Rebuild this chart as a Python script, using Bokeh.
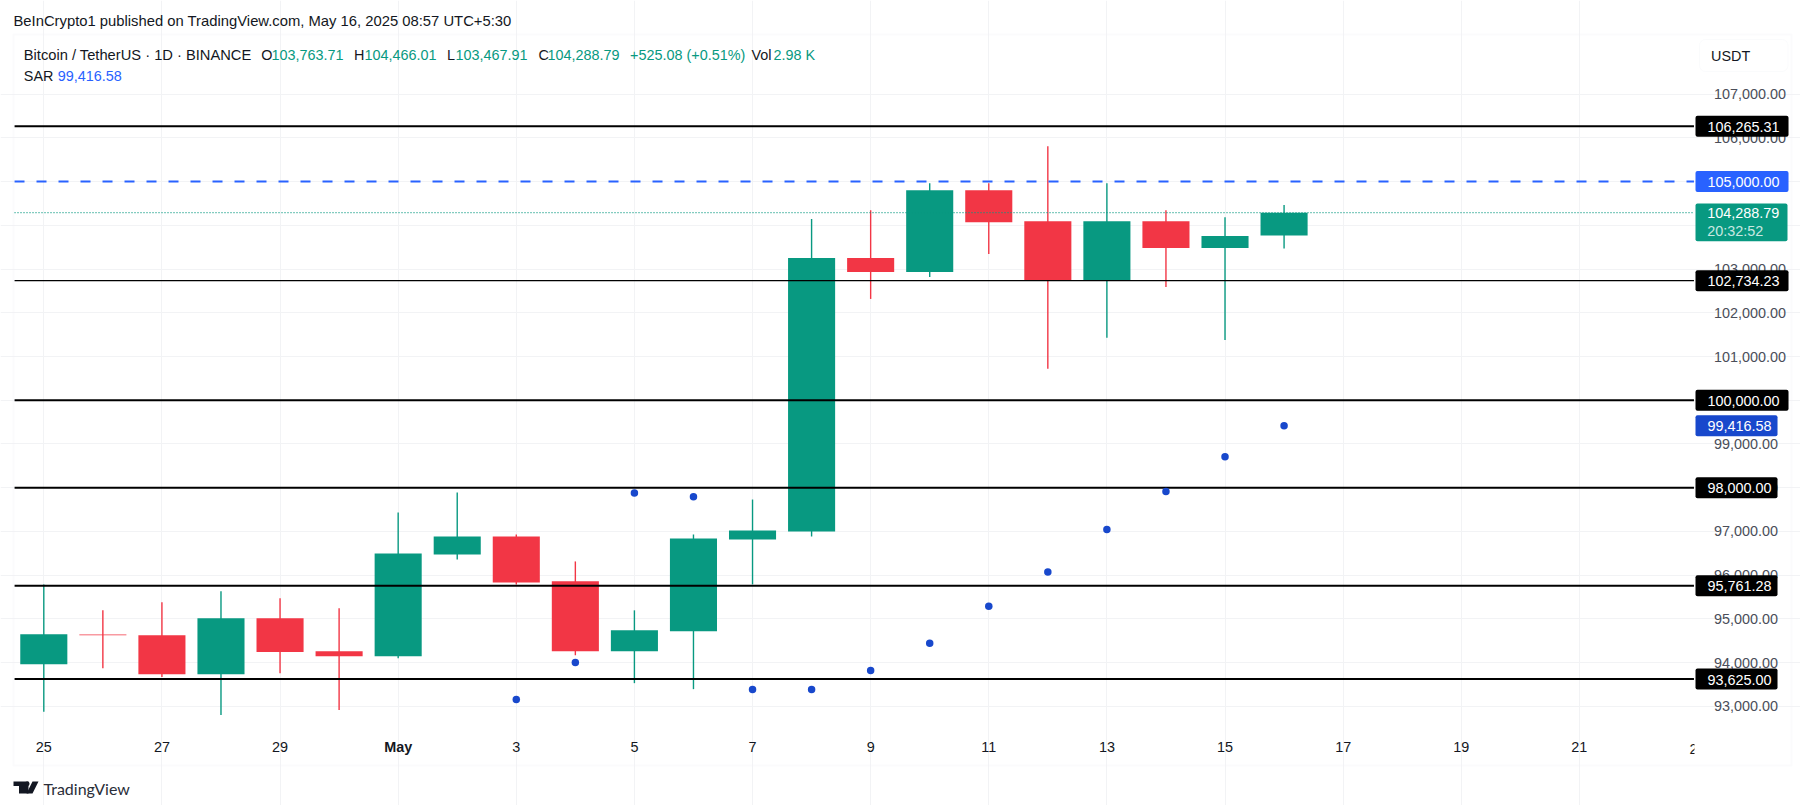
from bokeh.embed import file_html
from bokeh.resources import INLINE
from bokeh.plotting import figure
from bokeh.models import (Range1d, FixedTicker, NumeralTickFormatter, Label, BoxAnnotation,
                          PolyAnnotation)

# ---------- data ----------
day_ticks = [0, 2, 4, 6, 8, 10, 12, 14, 16, 18, 20, 22, 24, 26]
day_labels = ["25", "27", "29", "", "3", "5", "7", "9", "11", "13", "15", "17", "19", "21"]
opens = [93965, 94643, 94627, 93737, 95015, 94262, 94148, 96475, 96885, 95859, 94262, 94718, 96817, 97000,
         103251, 102931, 104802, 104095, 102749, 104095, 103479, 103763.71]
closes = [94650, 94625, 93737, 95015, 94246, 94148, 96498, 96885, 95836, 94262, 94741, 96840, 97022, 103251,
          102931, 104802, 104072, 102749, 104095, 103479, 103753, 104288.79]
highs = [95790, 95197, 95380, 95631, 95471, 95243, 97433, 97889, 96931, 96315, 95197, 96931, 97730, 104141,
         104346, 104962, 104962, 105806, 104962, 104346, 104186, 104466.01]
lows = [92877, 93874, 93675, 92802, 93760, 92916, 94100, 96361, 95790, 94170, 93532, 93395, 95790, 96885,
        102316, 102817, 103342, 100718, 101426, 102589, 101380, 103467.91]
sar_days = [8, 9, 10, 11, 12, 13, 14, 15, 16, 17, 18, 19, 20, 21]
sar_values = [93160, 94004, 97882, 97791, 93388, 93388, 93821, 94444, 95288, 96071, 97045, 97912, 98710, 99416.58]
price_ticks = [93000, 94000, 95000, 96000, 97000, 98000, 99000, 100000, 101000, 102000, 103000, 104000, 105000,
               106000, 107000]
level_values = [106265.31, 102734.23, 100000.00, 98000.00, 95761.28, 93625.00]
level_widths = [2, 1.2, 2, 2, 2, 2]
level_texts = ["106,265.31", "102,734.23", "100,000.00", "98,000.00", "95,761.28", "93,625.00"]
target_level = 105000.00
last_close = 104288.79
last_sar = 99416.58

GREEN, RED, BLUE, SARBLUE = "#089981", "#F23645", "#2962FF", "#1848CC"
GRID, FONT, INK = "#F2F3F5", "Liberation Sans", "#131722"
SIZE = "14.4px"
LEVEL = "overlay"

# pane limits in data units; the figure's scales span the whole canvas
PANE_LEFT, PANE_RIGHT = -0.496, 27.94
PANE_BOTTOM, PANE_TOP = 92450, 108362

p = figure(width=1800, height=805, output_backend="svg", toolbar_location=None,
           x_range=Range1d(-0.7332, 29.744), y_range=Range1d(90735, 109139),
           y_axis_location="right", min_border=0, background_fill_color="white",
           border_fill_color="white", outline_line_color=None)

p.xaxis.fixed_location = PANE_BOTTOM
p.yaxis.fixed_location = PANE_RIGHT
p.xaxis.ticker = FixedTicker(ticks=day_ticks)
p.xaxis.major_label_overrides = dict(zip(day_ticks, day_labels))
p.yaxis.ticker = FixedTicker(ticks=price_ticks)
p.yaxis.formatter = NumeralTickFormatter(format="0,0.00")
for ax in (p.xaxis[0], p.yaxis[0]):
    ax.axis_line_color = None
    ax.major_tick_line_color = None
    ax.minor_tick_line_color = None
    ax.major_label_text_font = FONT
    ax.major_label_text_font_size = SIZE
p.xaxis.major_label_text_color = INK
p.yaxis.major_label_text_color = "#4A4E59"
p.xaxis.major_label_standoff = 6
p.yaxis.major_label_standoff = 14
p.xgrid.ticker = FixedTicker(ticks=day_ticks)
p.ygrid.ticker = FixedTicker(ticks=price_ticks)
p.xgrid.bounds = (PANE_BOTTOM, PANE_TOP)
p.ygrid.bounds = (PANE_LEFT, PANE_RIGHT)
p.xgrid.grid_line_color = GRID
p.ygrid.grid_line_color = GRID

# candles
xs = list(range(len(opens)))
colors = [GREEN if c >= o else RED for o, c in zip(opens, closes)]
p.segment(xs, lows, xs, highs, line_color=colors, line_width=1.4)
p.vbar(xs, width=0.797, top=[max(a, b) for a, b in zip(opens, closes)],
       bottom=[min(a, b) for a, b in zip(opens, closes)], fill_color=colors, line_color=None)


def hlines(values, **kw):
    n = len(values)
    return p.segment([PANE_LEFT] * n, values, [PANE_RIGHT] * n, values, **kw)


# levels
r_last = hlines([last_close], line_color=GREEN, line_width=1.2)
r_last.glyph.line_dash = [1, 2]
hlines(level_values, line_color="black", line_width=level_widths)
r_target = hlines([target_level], line_color=BLUE, line_width=2)
r_target.glyph.line_dash = [10, 12]
p.scatter(sar_days, sar_values, size=7.5, color=SARBLUE, line_color=None)


def box(left, right, top, bottom, **kw):
    p.add_layout(BoxAnnotation(left=left, right=right, top=top, bottom=bottom, left_units="canvas",
                               right_units="canvas", top_units="canvas", bottom_units="canvas",
                               level=LEVEL, **kw))


def text(s, x, y, color=INK, size=SIZE, style="normal", font=FONT):
    p.add_layout(Label(x=x, y=y, x_units="canvas", y_units="canvas", text=s, text_color=color, level=LEVEL,
                       text_font=font, text_font_size=size, text_font_style=style, text_baseline="middle"))


def tag(s, value, bg):
    p.add_layout(Label(x=1695, y=value, x_units="canvas", y_units="data", text=s, text_color="white", level=LEVEL,
                       text_font=FONT, text_font_size=SIZE, text_baseline="middle",
                       background_fill_color=bg, border_radius=2,
                       padding=dict(left=12, right=9 if len(s) == 10 else 6, top=6, bottom=5)))


# outer frame, price scale button
box(13, 1791, 34, 765, fill_color=None, line_color="#F2F3F5", line_width=2)
box(1699, 1787.5, 39, 71, fill_color="white", fill_alpha=1, line_color="#F0F1F4", line_width=1, border_radius=6)
text("USDT", 1710.5, 55)

# clipped tick at the right end of the time scale
text("2", 1689, 748)
box(1694, 1700, 738, 758, fill_color="white", fill_alpha=1, line_color=None)
p.add_layout(Label(x=6, y=746, x_units="data", y_units="canvas", text="May", text_color=INK, text_font=FONT,
                   level=LEVEL, text_font_size=SIZE, text_font_style="bold", text_align="center",
                   text_baseline="middle"))

# price tags
for s, v in zip(level_texts, level_values):
    tag(s, v, "black")
tag("105,000.00", target_level, BLUE)
tag("{:,.2f}".format(last_sar), last_sar, SARBLUE)
box(1695, 1787, 203, 240.7, fill_color=GREEN, fill_alpha=1, line_color=None, border_radius=2)
text("{:,.2f}".format(last_close), 1706.7, 212.7, color="white")
text("20:32:52", 1706.7, 230, color="#C8E8E1")

# header
text("BeInCrypto1 published on TradingView.com, May 16, 2025 08:57 UTC+5:30", 13, 20, size="14.8px")
text("Bitcoin / TetherUS · 1D · BINANCE", 23.3, 54, size="14.7px")
for s, x, c in [("O", 260.7, INK), ("103,763.71", 271, GREEN), ("H", 353.4, INK), ("104,466.01", 364, GREEN),
                ("L", 446.6, INK), ("103,467.91", 455, GREEN), ("C", 538, INK), ("104,288.79", 547, GREEN),
                ("+525.08 (+0.51%)", 629.6, GREEN), ("Vol", 751, INK), ("2.98 K", 773, GREEN)]:
    text(s, x, 54, color=c)
text("SAR", 23.3, 75)
text("99,416.58", 57.3, 75, color=BLUE)

# TradingView mark
for px, py in [([13, 28, 28, 23, 18.5, 18.5, 13], [781, 781, 793, 793, 793, 785.5, 785.5]),
               ([32, 38, 32, 26], [781, 781, 793, 793])]:
    p.add_layout(PolyAnnotation(xs=px, ys=py, xs_units="canvas", ys_units="canvas", level=LEVEL,
                                fill_color=INK, fill_alpha=1, line_color=None))
box(24.5, 29, 781, 785.5, fill_color=INK, fill_alpha=1, line_color=None, border_radius=2)
text("TradingView", 43, 788, color="#2A2E39", size="16px", font="Lato")

open("out.html", "w").write(file_html(p, INLINE))
